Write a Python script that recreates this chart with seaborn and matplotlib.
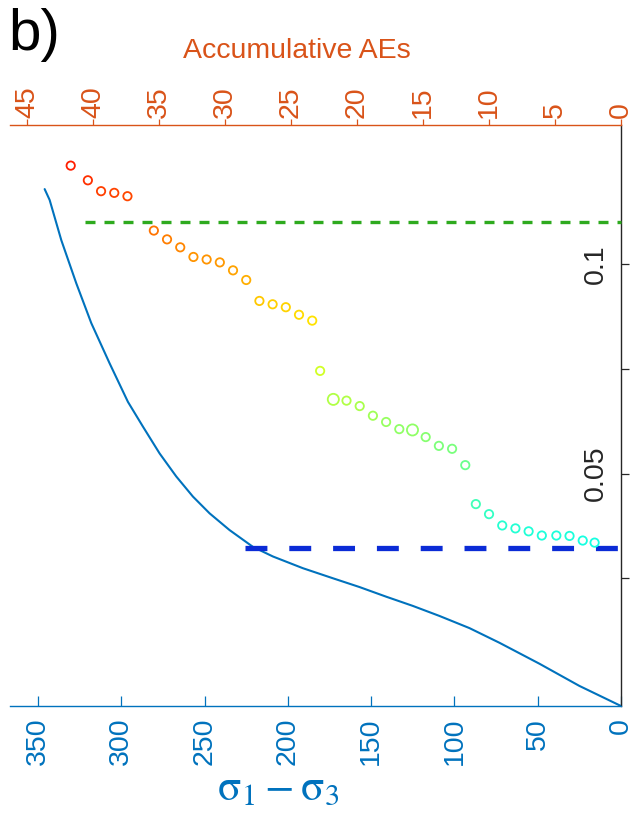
import numpy as np
import pandas as pd
import matplotlib
matplotlib.use("Agg")
import matplotlib.pyplot as plt
import seaborn as sns

# Deviatoric stress vs axial strain (loading curve)
stress = [0, 25, 49, 73, 91, 109, 125, 141, 157, 173, 191, 209, 221, 235,
          247, 257, 267, 277, 287, 296, 307, 318, 327, 336, 343, 346]
strain = [-0.0055, -0.0007, 0.0046, 0.0096, 0.0131, 0.0160, 0.0184, 0.0206,
          0.0229, 0.0250, 0.0274, 0.0302, 0.0325, 0.0365, 0.0405, 0.0445,
          0.0493, 0.0548, 0.0612, 0.0671, 0.0763, 0.0859, 0.0954, 0.1057,
          0.1153, 0.1179]

# Accumulative acoustic-emission events and the strain at which they occur
ae_count = [41.7, 40.4, 39.4, 38.4, 37.4,
            35.4, 34.4, 33.4, 32.4, 31.4, 30.4, 29.4, 28.4,
            27.4, 26.4, 25.4, 24.4, 23.4,
            22.8,
            21.8, 20.8, 19.8, 18.8, 17.8, 16.8, 15.8, 14.8, 13.8, 12.8, 11.8,
            11.0, 10.0, 9.0, 8.0, 7.0, 6.0, 4.9, 3.9, 2.9, 2.0]
ae_strain = [0.1235, 0.1200, 0.1174, 0.1170, 0.1162,
             0.1080, 0.1059, 0.1040, 0.1017, 0.1011, 0.1004, 0.0985, 0.0962,
             0.0912, 0.0904, 0.0897, 0.0879, 0.0865,
             0.0745,
             0.0677, 0.0674, 0.0661, 0.0638, 0.0623, 0.0606, 0.0604, 0.0587,
             0.0566, 0.0559, 0.0520,
             0.0427, 0.0403, 0.0376, 0.0369, 0.0362, 0.0352, 0.0352, 0.0351,
             0.0340, 0.0335]
ae_hits = [1] * 40
ae_hits[19] = 2
ae_hits[25] = 2

# Reference strain levels
upper_strain = 0.110
upper_from_stress = 322
lower_strain = 0.0322
lower_from_stress = 226

stress_ticks = [0, 50, 100, 150, 200, 250, 300, 350]
ae_ticks = [0, 5, 10, 15, 20, 25, 30, 35, 40, 45]
strain_ticks = [0.025, 0.05, 0.075, 0.1]
strain_ticklabels = ["", "0.05", "", "0.1"]

BLUE = "#0072BD"
ORANGE = "#D95319"
DARK = "#262626"

sns.set_style("white")
plt.rcParams["font.family"] = ["Liberation Sans", "DejaVu Sans"]
plt.rcParams["mathtext.fontset"] = "stix"

curve = pd.DataFrame({"stress": stress, "strain": strain})
ae = pd.DataFrame({"count": ae_count, "strain": ae_strain, "hits": ae_hits})

W, H = 636, 814
fig = plt.figure(figsize=(W / 100, H / 100), dpi=100)
ax = fig.add_axes([10 / W, 1 - 706 / H, 611 / W, 581 / H])
ax_ae = ax.twiny()

# stress-strain curve
sns.lineplot(data=curve, x="stress", y="strain", ax=ax, sort=False,
             estimator=None, color=BLUE, lw=1.5, clip_on=False)

# reference strain lines
ax.plot([lower_from_stress, 0], [lower_strain, lower_strain], color="#0B2BD6",
        lw=3.8, ls=(0, (4.15, 4.15)), solid_capstyle="butt",
        dash_capstyle="butt", clip_on=False, zorder=3)
ax.plot([upper_from_stress, 0], [upper_strain, upper_strain], color="#2EAA1E",
        lw=2.4, ls=(0, (3.0, 2.7)), dash_capstyle="butt", clip_on=False,
        zorder=3)

# AE events, coloured by strain
sns.scatterplot(data=ae, x="count", y="strain", hue="strain",
                palette=matplotlib.colormaps["jet"],
                hue_norm=(-0.034, 0.146), size="hits", sizes={1: 36, 2: 64},
                marker="o", ax=ax_ae, legend=False, zorder=4)
coll = ax_ae.collections[-1]
fc = coll.get_facecolors()
coll.set_edgecolors(fc)
coll.set_facecolors("none")
coll.set_linewidths(1.3)

# limits
ax.set_xlim(366.8, 0)
ax.set_ylim(-0.0055, 0.1332)
ax_ae.set_xlim(46.3, 0)

ax.set_ylabel("")
ax.set_xlabel("")
ax_ae.set_xlabel("")
ax_ae.set_ylabel("")

# bottom stress axis
ax.set_xticks(stress_ticks)
ax.tick_params(axis="x", direction="in", length=7, width=0.9, colors=BLUE,
               labelsize=20.5, labelrotation=90, pad=8.5)
ax.set_xlabel(r"$\mathrm{\sigma}_1 - \mathrm{\sigma}_3$", fontsize=31,
              color=BLUE)
ax.xaxis.set_label_coords((278 - 10) / 611, (706 - 799) / 581)
ax.xaxis.label.set_va("baseline")

# right strain axis
ax.yaxis.tick_right()
ax.set_yticks(strain_ticks)
ax.set_yticklabels(strain_ticklabels)
ax.tick_params(axis="y", direction="out", length=5.8, width=0.9, colors=DARK,
               labelsize=20.5, labelrotation=90, pad=-33)
for lbl in ax.get_yticklabels():
    lbl.set_va("center")

# top AE axis
ax_ae.set_xticks(ae_ticks)
ax_ae.tick_params(axis="x", direction="out", length=4, width=0.9,
                  colors=ORANGE, labelsize=20.5, labelrotation=90, pad=1)
ax_ae.set_xlabel("Accumulative AEs", fontsize=20.5, color=ORANGE)
ax_ae.xaxis.set_label_coords((297 - 10) / 611, (706 - 58) / 581)
ax_ae.xaxis.label.set_va("baseline")

for side in ["left", "top"]:
    ax.spines[side].set_visible(False)
ax.spines["right"].set_color(DARK)
ax.spines["right"].set_linewidth(1.0)
ax.spines["bottom"].set_color(BLUE)
ax.spines["bottom"].set_linewidth(1.0)
for side in ["left", "right", "bottom"]:
    ax_ae.spines[side].set_visible(False)
ax_ae.spines["top"].set_color(ORANGE)
ax_ae.spines["top"].set_linewidth(1.0)

fig.text(8 / W, 1 - 50 / H, "b)", fontsize=42, va="baseline", color="black")

fig.savefig("out.png", dpi=100)
